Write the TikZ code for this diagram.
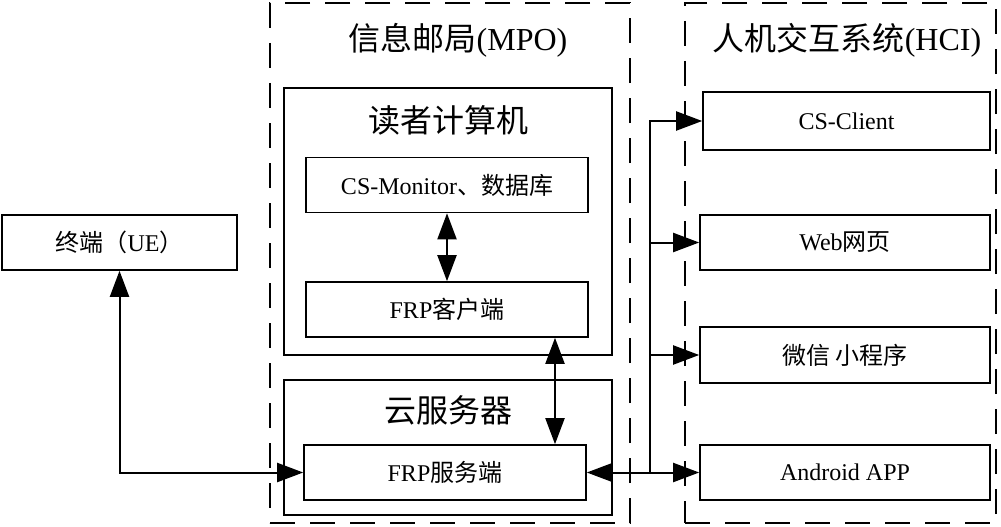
\documentclass[tikz,border=0pt]{standalone}
\usepackage{fontspec}
\setmainfont{Liberation Serif}
\newfontfamily\cjk{Noto Sans CJK SC}
\usetikzlibrary{positioning,arrows.meta}
\tikzset{
  box/.style={draw, line width=1.6pt, minimum width=282pt, minimum height=55pt,
    inner sep=0pt, font=\fontsize{24}{26}\selectfont},
  group/.style={draw, line width=1.6pt, inner sep=0pt},
  zone/.style={draw, line width=1.8pt, dash pattern=on 25pt off 15pt, inner sep=0pt},
  title/.style={font=\fontsize{32}{35}\selectfont},
  link/.style={line width=2pt, -{Triangle[length=26pt,width=19pt]}},
  duplex/.style={line width=2pt, {Triangle[length=26pt,width=19pt]}-{Triangle[length=26pt,width=19pt]}}
}
\begin{document}
\begin{tikzpicture}[x=1pt, y=-1pt]
  \useasboundingbox (0,0) rectangle (1001,527);

  % dashed zones
  \node[zone, minimum width=360pt, minimum height=520pt] (mpo) at (450,263) {};
  \node[zone, minimum width=311pt, minimum height=520pt] (hci) at (840.5,263) {};
  \node[title] (mpotitle) at (458,40) {{\cjk 信息邮局}(MPO)};
  \node[title] (hcititle) at (847,40) {{\cjk 人机交互系统}(HCI)};

  % reader computer and cloud server
  \node[group, minimum width=328pt, minimum height=267pt] (reader) at (448,221.5) {};
  \node[title] (readertitle) at (448,120) {\cjk 读者计算机};
  \node[box] (monitor) at (447,185) {CS-Monitor{\cjk 、数据库}};
  \node[box] (frpc) at (447,309.5) {FRP{\cjk 客户端}};

  \node[group, minimum width=328pt, minimum height=135pt] (cloud) at (448,447.5) {};
  \node[title] (cloudtitle) at (448,410) {\cjk 云服务器};
  \node[box] (frps) at (445,472.5) {FRP{\cjk 服务端}};

  % terminal
  \node[box, minimum width=235pt] (ue) at (119.5,242.5) {{\cjk 终端（}UE{\cjk ）}};

  % HCI clients
  \node[box, minimum width=287pt, minimum height=58pt] (csclient) at (846.5,121) {CS-Client};
  \node[box, minimum width=290pt] (web) at (845,242.5) {Web{\cjk 网页}};
  \node[box, minimum width=290pt, minimum height=56pt] (wechat) at (845,355) {\cjk 微信 小程序};
  \node[box, minimum width=290pt] (android) at (845,472.5) {Android APP};

  % connectors
  \coordinate (tunnel) at (555,0);
  \coordinate (bus) at (650,472.5);
  \draw[duplex] (ue.south) |- (frps.west);
  \draw[duplex] (monitor.south) -- (frpc.north);
  \draw[duplex] (frpc.south -| tunnel) -- (frps.north -| tunnel);
  \draw[duplex] (frps.east) -- (android.west);
  \draw[link] (bus) |- (csclient.west);
  \draw[link] (bus |- web.west) -- (web.west);
  \draw[link] (bus |- wechat.west) -- (wechat.west);
\end{tikzpicture}
\end{document}
